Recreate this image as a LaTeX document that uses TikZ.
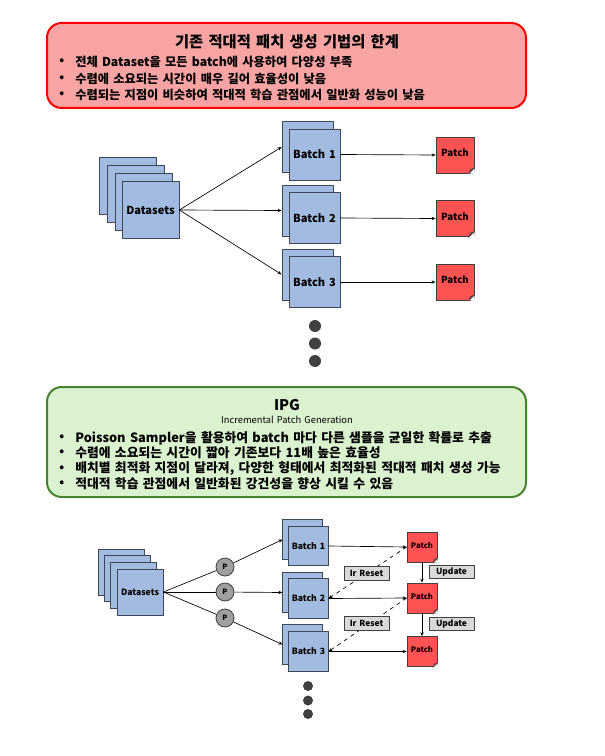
\documentclass[tikz,border=0pt]{standalone}
\usepackage{fontspec}
\setmainfont{Noto Sans CJK KR}[WordSpace=1.5]
\usetikzlibrary{arrows.meta}

\definecolor{boxblue}{RGB}{163,187,224}
\definecolor{edgeblue}{RGB}{60,72,90}
\definecolor{patchred}{RGB}{255,82,82}
\definecolor{notered}{RGB}{248,164,164}
\definecolor{notegreen}{RGB}{218,242,208}
\definecolor{edgegreen}{RGB}{72,130,45}
\definecolor{pgray}{RGB}{160,160,160}
\definecolor{tagray}{RGB}{217,217,217}
\definecolor{dotgray}{RGB}{64,64,64}

\tikzset{
  sheet/.style={draw=edgeblue,fill=boxblue,line width=0.6pt,inner sep=0pt},
  patchbox/.style={draw=dotgray,fill=patchred,line width=0.6pt,inner sep=0pt},
  ppoint/.style={circle,draw=dotgray,fill=pgray,line width=0.6pt,minimum size=13.5pt,inner sep=0pt,font=\bfseries\fontsize{5.5}{6}\selectfont},
  tagbox/.style={draw=dotgray,fill=tagray,line width=0.6pt,inner sep=0pt,minimum width=33.75pt,minimum height=10pt,font=\bfseries\fontsize{6.3}{7}\selectfont},
  flow/.style={-{Stealth[length=3pt,width=2.5pt]},line width=0.5pt,black},
  bulletline/.style={anchor=west,inner sep=0pt,font=\bfseries\fontsize{9.2}{10}\selectfont},
  bulletbig/.style={anchor=west,inner sep=0pt,font=\bfseries\fontsize{9.6}{10}\selectfont},
  dotmark/.style={circle,fill=dotgray,inner sep=0pt}
}

\begin{document}
\begin{tikzpicture}[x=0.75pt,y=-0.75pt]
  \useasboundingbox (0,0) rectangle (605,756);

  % limits of the existing method
  \draw[draw=red,fill=notered,line width=1.5pt,rounded corners=11pt] (47,23) rectangle (526,108);
  \node[font=\bfseries\fontsize{11.5}{13}\selectfont] (oldtitle) at (287,42) {기존 적대적 패치 생성 기법의 한계};
  \foreach \y/\t [count=\i] in {62/{전체 Dataset을 모든 batch에 사용하여 다양성 부족},
                               79/{수렴에 소요되는 시간이 매우 길어 효율성이 낮음},
                               95/{수렴되는 지점이 비슷하여 적대적 학습 관점에서 일반화 성능이 낮음}}{
    \node[bulletline] (oldb\i) at (59,\y) {•};
    \node[bulletline] (oldt\i) at (75,\y) {\t};
  }

  % old pipeline
  \foreach \k in {0,1,2}
    \node[sheet,minimum size=42.75pt] at (127.5+8*\k,185.5+8*\k) {};
  \node[sheet,minimum size=42.75pt,font=\bfseries\fontsize{8.3}{9}\selectfont] (ds) at (150.5,210) {Datasets};

  \node[sheet,minimum size=38.25pt] (b1back) at (307.5,147) {};
  \node[sheet,minimum size=38.25pt,font=\bfseries\fontsize{8.3}{9}\selectfont] (b1) at (314.5,154.5) {Batch 1};
  \node[sheet,minimum size=38.25pt] (b2back) at (307.5,210.5) {};
  \node[sheet,minimum size=38.25pt,font=\bfseries\fontsize{8.3}{9}\selectfont] (b2) at (314.5,218) {Batch 2};
  \node[sheet,minimum size=38.25pt] (b3back) at (307.5,274.5) {};
  \node[sheet,minimum size=38.25pt,font=\bfseries\fontsize{8.3}{9}\selectfont] (b3) at (314.5,282) {Batch 3};

  \foreach \i/\y in {1/155,2/218.5,3/282}{
    \node[patchbox,minimum width=28.5pt,minimum height=27pt,font=\bfseries\fontsize{7.3}{8}\selectfont] (p\i) at (455,\y) {\raisebox{3pt}{Patch}};
    \fill[white] ([xshift=-4pt]p\i.south east) -- ([xshift=0.4pt,yshift=-0.4pt]p\i.south east) -- ([yshift=4pt]p\i.south east) -- cycle;
    \draw[draw=dotgray,fill=red!60!black!80,line width=0.4pt] ([xshift=-4pt]p\i.south east) -- ([yshift=4pt]p\i.south east) -- ([xshift=-3pt,yshift=3pt]p\i.south east) -- cycle;
    \draw[flow] (b\i.east) -- (p\i.west);
    \draw[flow] (ds.east) -- (b\i back.west);
  }

  \node[dotmark,minimum size=9pt] (od1) at (315,326) {};
  \node[dotmark,minimum size=9pt] (od2) at (315,343.5) {};
  \node[dotmark,minimum size=9pt] (od3) at (315,361) {};

  % IPG
  \draw[draw=edgegreen,fill=notegreen,line width=1.5pt,rounded corners=11pt] (47,387) rectangle (526,497);
  \node[font=\bfseries\fontsize{11}{12}\selectfont] (ipgtitle) at (287,405) {IPG};
  \node[font=\fontsize{7}{7}\selectfont] (ipgsub) at (287,420) {Incremental Patch Generation};
  \foreach \y/\t [count=\i] in {438/{Poisson Sampler을 활용하여 batch 마다 다른 샘플을 균일한 확률로 추출},
                               453/{수렴에 소요되는 시간이 짧아 기존보다 11배 높은 효율성},
                               468.5/{배치별 최적화 지점이 달라져, 다양한 형태에서 최적화된 적대적 패치 생성 가능},
                               484/{적대적 학습 관점에서 일반화된 강건성을 향상 시킬 수 있음}}{
    \node[bulletline] (newb\i) at (59,\y) {•};
    \node[bulletbig] (newt\i) at (75,\y) {\t};
  }

  % IPG pipeline
  \foreach \k in {0,1,2}
    \node[sheet,minimum size=34.5pt] at (121+6.4*\k,572+6.6*\k) {};
  \node[sheet,minimum size=34.5pt,font=\bfseries\fontsize{6.5}{7}\selectfont] (ds2) at (140,592) {Datasets};

  \node[ppoint] (pp1) at (225,567) {P};
  \node[ppoint] (pp2) at (225,592) {P};
  \node[ppoint] (pp3) at (225,618) {P};

  \node[sheet,minimum size=29.5pt] (b4back) at (302.5,539.5) {};
  \node[sheet,minimum size=29.5pt,font=\bfseries\fontsize{6.5}{7}\selectfont] (b4) at (308.5,546) {Batch 1};
  \node[sheet,minimum size=29.5pt] (b5back) at (302.5,592.5) {};
  \node[sheet,minimum size=29.5pt,font=\bfseries\fontsize{6.5}{7}\selectfont] (b5) at (308.5,598.5) {Batch 2};
  \node[sheet,minimum size=29.5pt] (b6back) at (302.5,644.5) {};
  \node[sheet,minimum size=29.5pt,font=\bfseries\fontsize{6.5}{7}\selectfont] (b6) at (308.5,651.5) {Batch 3};

  \foreach \i/\b/\y in {1/4/547,2/5/598,3/6/651.5}{
    \node[patchbox,minimum size=22.5pt,font=\bfseries\fontsize{5.8}{6}\selectfont] (q\i) at (422,\y) {\raisebox{3pt}{Patch}};
    \fill[white] ([xshift=-3pt]q\i.south east) -- ([xshift=0.4pt,yshift=-0.4pt]q\i.south east) -- ([yshift=3pt]q\i.south east) -- cycle;
    \draw[draw=dotgray,fill=red!60!black!80,line width=0.4pt] ([xshift=-3pt]q\i.south east) -- ([yshift=3pt]q\i.south east) -- ([xshift=-2.2pt,yshift=2.2pt]q\i.south east) -- cycle;
    \draw[flow] (b\b.east) -- (q\i.west);
    \draw[line width=0.5pt] (ds2.east) -- (pp\i);
    \draw[flow] (pp\i) -- (b\b back.west);
  }
  \draw[flow] (q1.south) -- (q2.north);
  \draw[flow] (q2.south) -- (q3.north);
  \draw[flow,dashed] (q1.west) -- (b5.east);
  \draw[flow,dashed] (q2.west) -- (b6.east);

  \node[tagbox] (lr1) at (366.5,573.5) {Ir Reset};
  \node[tagbox] (lr2) at (366.5,623.5) {Ir Reset};
  \node[tagbox] (up1) at (451.5,572) {Update};
  \node[tagbox] (up2) at (451.5,624) {Update};

  \node[dotmark,minimum size=7.5pt] (nd1) at (308,686) {};
  \node[dotmark,minimum size=7.5pt] (nd2) at (308,700.5) {};
  \node[dotmark,minimum size=7.5pt] (nd3) at (308,714) {};
\end{tikzpicture}
\end{document}
